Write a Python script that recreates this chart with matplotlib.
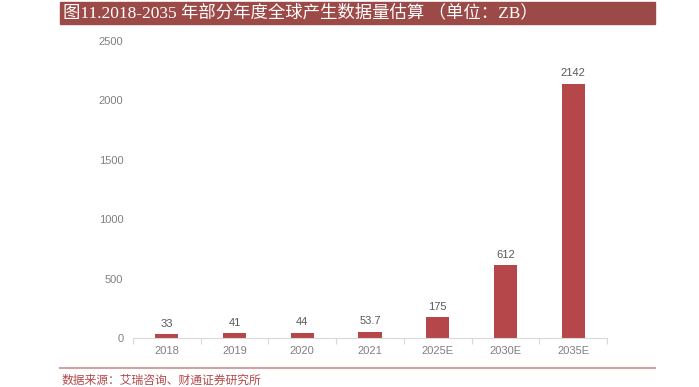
import matplotlib.pyplot as plt
from matplotlib.patches import Rectangle
from matplotlib.lines import Line2D

plt.rcParams['font.family'] = ['Liberation Sans', 'Noto Sans CJK SC']

years = ['2018', '2019', '2020', '2021', '2025E', '2030E', '2035E']
values = [33, 41, 44, 53.7, 175, 612, 2142]
labels = ['33', '41', '44', '53.7', '175', '612', '2142']

title = '图11.2018-2035 年部分年度全球产生数据量估算 （单位：ZB）'
source = '数据来源：艾瑞咨询、财通证券研究所'

bar_color = '#B5474A'
head_color = '#9C4A47'
grey = '#808080'

fig = plt.figure(figsize=(6.99, 3.87), dpi=100)
ax = fig.add_axes([133 / 699, 1 - 338 / 387, (607 - 133) / 699, (338 - 41) / 387])

x = range(len(years))
ax.bar(x, values, width=0.34, color=bar_color, zorder=2)
for i, v in enumerate(values):
    ax.text(i, v + 45, labels[i], ha='center', va='bottom', fontsize=8, color='#595959')

ax.set_xlim(-0.5, len(years) - 0.5)
ax.set_ylim(0, 2500)
ax.set_yticks([0, 500, 1000, 1500, 2000, 2500])
ax.set_xticks(list(x))
ax.set_xticklabels(years)
ax.set_xticks([i + 0.5 for i in range(-1, len(years))], minor=True)
ax.tick_params(axis='x', which='major', length=0, labelsize=8, labelcolor=grey, pad=6)
ax.tick_params(axis='x', which='minor', length=4, color='#D9D9D9', width=0.8)
ax.tick_params(axis='y', length=0, labelsize=8, labelcolor=grey, pad=7)
for side in ['top', 'right', 'left']:
    ax.spines[side].set_visible(False)
ax.spines['bottom'].set_color('#D9D9D9')

# title bar
fig.patches.append(Rectangle((60 / 699, 1 - 24 / 387), 595 / 699, 22 / 387,
                             transform=fig.transFigure, color=head_color, zorder=0))
fig.text(63 / 699, 1 - 13 / 387, title, color='white', fontsize=12.5, va='center', ha='left',
         family=['Liberation Serif', 'Noto Sans CJK SC'])

# bottom line and source
fig.lines.append(Line2D([60 / 699, 655 / 699], [1 - 368 / 387] * 2, transform=fig.transFigure,
                        color='#CFA3A3', linewidth=1.5))
fig.text(62 / 699, 1 - 381 / 387, source, color='#B5474A', fontsize=8.5, va='center', ha='left')

fig.savefig('out.png', dpi=100)
